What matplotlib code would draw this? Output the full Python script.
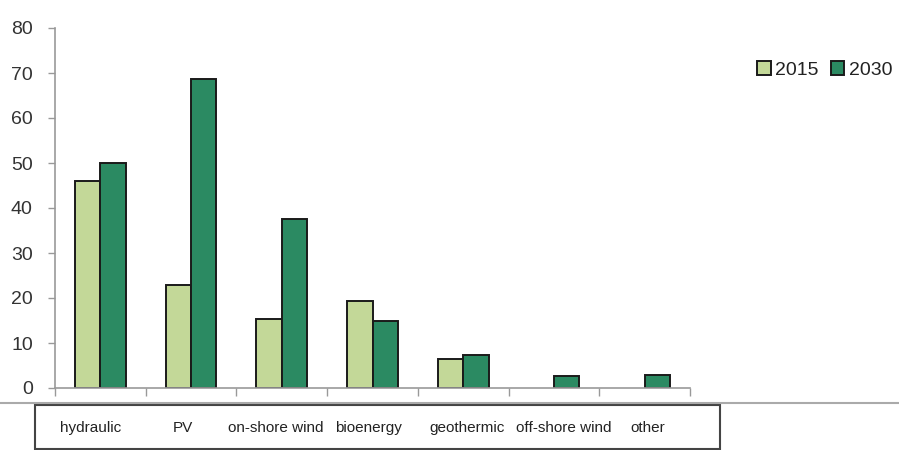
import numpy as np
import matplotlib
matplotlib.use('Agg')
import matplotlib.pyplot as plt
from matplotlib.patches import Rectangle
from matplotlib.lines import Line2D

categories = ['hydraulic', 'PV', 'on-shore wind', 'bioenergy', 'geothermic', 'off-shore wind', 'other']
years = ['2015', '2030']
values_2015 = [46, 23, 15.3, 19.3, 6.4, np.nan, np.nan]
values_2030 = [50, 68.7, 37.5, 15, 7.3, 2.7, 2.9]
yticks = [0, 10, 20, 30, 40, 50, 60, 70, 80]

light_green = '#c3d898'
dark_green = '#2b8a62'
plt.rcParams['font.family'] = ['Liberation Sans', 'DejaVu Sans']

fig = plt.figure(figsize=(8.99, 4.5), dpi=100)
ax = fig.add_axes([55 / 899, 1 - 388 / 450, 635 / 899, 360 / 450])

x = np.arange(len(categories))
w = 0.28
ax.bar(x - w / 2, values_2015, w, color=light_green, edgecolor='#1a1a1a', linewidth=1.4, label=years[0])
ax.bar(x + w / 2, values_2030, w, color=dark_green, edgecolor='#1a1a1a', linewidth=1.4, label=years[1])

ax.set_xlim(-0.5, len(categories) - 0.5)
ax.set_ylim(0, 80)
ax.set_yticks(yticks)
ax.set_yticklabels([str(t) for t in yticks], fontsize=14, color='#333333')
ax.tick_params(axis='y', length=5, width=1, color='#999999', pad=11)

# category boundaries as small ticks below the axis
ax.set_xticks([])
ax.set_xticks(np.arange(-0.5, len(categories)), minor=True)
ax.tick_params(axis='x', which='minor', length=6, width=1, color='#999999')

for side in ['top', 'right']:
    ax.spines[side].set_visible(False)
for side in ['left', 'bottom']:
    ax.spines[side].set_color('#999999')
    ax.spines[side].set_linewidth(1.2)

ax.legend(loc='center left', bbox_to_anchor=(757 / 899, 1 - 70 / 450), bbox_transform=fig.transFigure,
          ncol=2, frameon=False, fontsize=14, handlelength=0.7, handleheight=0.7,
          handletextpad=0.25, columnspacing=0.6, borderaxespad=0, borderpad=0,
          labelcolor='#222222')

# category labels in a boxed strip under the plot
fig.add_artist(Line2D([0, 1], [1 - 403 / 450] * 2, transform=fig.transFigure, color='#aaaaaa', lw=1.5))
fig.add_artist(Rectangle((35 / 899, 1 - 449 / 450), 685 / 899, 44 / 450, transform=fig.transFigure,
                         fill=False, edgecolor='#444444', lw=1.5))
label_x = [91, 183, 276, 368, 467, 564, 648]
for lx, name in zip(label_x, categories):
    fig.text(lx / 899, 1 - 428 / 450, name, ha='center', va='center', fontsize=11, color='#222222')

fig.savefig('out.png', dpi=100)
